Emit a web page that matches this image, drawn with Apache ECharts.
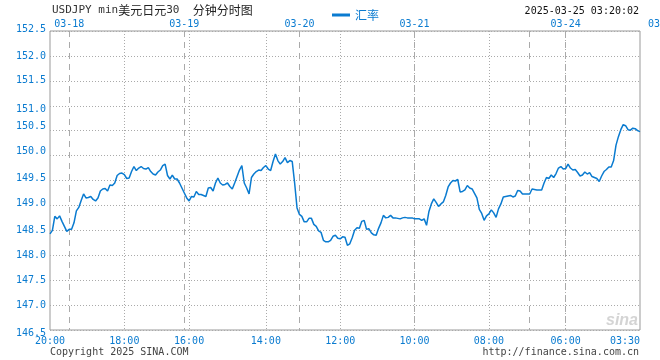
<!DOCTYPE html>
<html><head><meta charset="utf-8">
<script src="https://cdn.jsdelivr.net/npm/echarts@6/dist/echarts.min.js"></script>
<style>html,body{margin:0;padding:0;background:#fff}#c{width:660px;height:360px}</style>
</head><body><div id="c"></div>
<script>
// 30-minute USD/JPY rates, oldest (left) to newest (right)
const rates = [
148.43,148.50,148.78,148.73,148.79,148.68,148.58,148.48,148.52,148.52,
148.65,148.89,148.96,149.10,149.23,149.15,149.16,149.18,149.12,149.09,
149.15,149.29,149.33,149.34,149.29,149.41,149.40,149.45,149.60,149.64,
149.65,149.62,149.54,149.55,149.68,149.78,149.70,149.75,149.78,149.74,
149.73,149.76,149.68,149.63,149.61,149.67,149.71,149.80,149.83,149.60,
149.53,149.61,149.53,149.53,149.45,149.35,149.25,149.15,149.09,149.18,
149.17,149.28,149.22,149.22,149.20,149.18,149.35,149.36,149.29,149.45,
149.55,149.45,149.41,149.42,149.45,149.38,149.33,149.45,149.58,149.71,
149.80,149.45,149.35,149.23,149.56,149.63,149.68,149.71,149.70,149.76,
149.80,149.73,149.70,149.88,150.03,149.90,149.83,149.88,149.96,149.86,
149.90,149.88,149.45,148.95,148.82,148.78,148.67,148.67,148.74,148.74,
148.62,148.58,148.49,148.46,148.30,148.27,148.27,148.30,148.38,148.40,
148.34,148.33,148.37,148.36,148.20,148.23,148.35,148.50,148.55,148.54,
148.68,148.70,148.52,148.53,148.45,148.41,148.40,148.54,148.65,148.80,
148.75,148.76,148.80,148.75,148.75,148.74,148.73,148.75,148.76,148.75,
148.75,148.75,148.73,148.73,148.73,148.70,148.73,148.60,148.88,149.03,
149.13,149.06,148.98,149.03,149.07,149.20,149.37,149.45,149.50,149.49,
149.52,149.27,149.28,149.31,149.40,149.35,149.33,149.24,149.15,148.92,
148.84,148.70,148.79,148.83,148.91,148.85,148.76,148.93,149.03,149.17,
149.18,149.19,149.20,149.17,149.19,149.30,149.29,149.23,149.23,149.23,
149.23,149.33,149.32,149.31,149.31,149.31,149.45,149.56,149.54,149.61,
149.56,149.64,149.75,149.78,149.73,149.74,149.83,149.75,149.71,149.72,
149.66,149.59,149.61,149.67,149.63,149.66,149.58,149.56,149.54,149.48,
149.59,149.68,149.72,149.77,149.77,149.90,150.21,150.38,150.52,150.62,
150.60,150.52,150.51,150.55,150.54,150.50,150.48
];
const seriesName = '汇率';
const dayLabels = ['03-18','03-19','03-20','03-21','03-24'];
const dayLabelIdx = [8,56,104,152,215];
const daySepIdx = [8,56,104,152,200,215];
const timeLabels = ['20:00','18:00','16:00','14:00','12:00','10:00','08:00','06:00','03:30'];
const timeLabelIdx = [0,31,58,90,121,152,183,215,246];
const timeGridIdx = [31,58,90,121,152,183,215];
const yMin = 146.5, yMax = 152.5, yStep = 0.5;

const cats = rates.map((_, i) => String(i));
const MONO = 'DejaVu Sans Mono';
const CJK = 'Noto Sans CJK SC';
const BLUE = '#0a7bd0';
const GRID = '#aaaaaa';

// small vertical nudges of some y labels (style only)
const yNudge = {'152.5':'u1','151.0':'d3','150.5':'u4','150.0':'u4','149.5':'u2','149.0':'u2','146.5':'d3'};
const lab = {color: BLUE, fontFamily: MONO, fontSize: 10};
const rich = {
  n: Object.assign({}, lab),
  u1: Object.assign({padding:[0,0,3,0]}, lab),
  u2: Object.assign({padding:[0,0,5,0]}, lab),
  u4: Object.assign({padding:[0,0,8,0]}, lab),
  d3: Object.assign({padding:[7,0,0,0]}, lab)
};

const chart = echarts.init(document.getElementById('c'), null, {renderer: 'canvas'});
chart.setOption({
  animation: false,
  backgroundColor: '#fff',
  grid: {left: 50, right: 20, top: 31, bottom: 30, show: true, borderColor: '#999', borderWidth: 1, containLabel: false},
  legend: {
    data: [seriesName], left: 327, top: 4, icon: 'rect', itemWidth: 18, itemHeight: 3, itemGap: 5,
    textStyle: {color: BLUE, fontFamily: CJK, fontSize: 12}
  },
  xAxis: [
    {
      type: 'category', data: cats, boundaryGap: false, position: 'bottom',
      axisLine: {show: false}, axisTick: {show: false},
      axisLabel: {
        interval: (i) => timeLabelIdx.includes(i),
        formatter: (v, i) => timeLabels[timeLabelIdx.indexOf(i)] || '',
        color: BLUE, fontFamily: MONO, fontSize: 10, margin: 6, alignMaxLabel: 'right'
      },
      splitLine: {show: true, interval: (i) => timeGridIdx.includes(i), lineStyle: {color: GRID, type: [1, 2], width: 1}}
    },
    {
      type: 'category', data: cats, boundaryGap: false, position: 'top',
      axisLine: {show: false}, axisTick: {show: false},
      axisLabel: {
        interval: (i) => dayLabelIdx.includes(i),
        formatter: (v, i) => dayLabels[dayLabelIdx.indexOf(i)] || '',
        color: BLUE, fontFamily: MONO, fontSize: 10, margin: 2
      },
      splitLine: {show: true, interval: (i) => daySepIdx.includes(i), lineStyle: {color: GRID, type: [6, 5], width: 1}}
    }
  ],
  yAxis: {
    type: 'value', min: yMin, max: yMax, interval: yStep,
    axisLine: {show: false}, axisTick: {show: false},
    axisLabel: {
      margin: 4, color: BLUE, fontFamily: MONO, fontSize: 10,
      formatter: (v) => { const s = v.toFixed(1); return '{' + (yNudge[s] || 'n') + '|' + s + '}'; },
      rich: rich
    },
    splitLine: {show: true, lineStyle: {color: GRID, type: [1, 2], width: 1}}
  },
  series: [{
    name: seriesName, type: 'line', data: rates, xAxisIndex: 0, showSymbol: false, symbol: 'none',
    lineStyle: {color: BLUE, width: 1.5}, itemStyle: {color: BLUE}
  }],
  graphic: [
    {type: 'text', left: 52, top: 4, style: {
      text: '{a|USDJPY min}{b|美元日元}{a|30  }{b|分钟分时图}',
      rich: {a: {fontFamily: MONO, fontSize: 11, fill: '#333'}, b: {fontFamily: CJK, fontSize: 12, fill: '#222'}}
    }},
    {type: 'text', right: 21, top: 6, style: {text: '2025-03-25 03:20:02', fontFamily: MONO, fontSize: 10, fill: '#111'}},
    {type: 'text', left: 648, top: 19, style: {text: '03-25', fontFamily: MONO, fontSize: 10, fill: BLUE}},
    {type: 'text', left: 50, top: 347, style: {text: 'Copyright 2025 SINA.COM', fontFamily: MONO, fontSize: 10, fill: '#444'}},
    {type: 'text', right: 21, top: 347, style: {text: 'http://finance.sina.com.cn', fontFamily: MONO, fontSize: 10, fill: '#444'}},
    {type: 'text', right: 22, top: 313, z: 0, style: {text: 'sina', fontFamily: 'Liberation Sans', fontStyle: 'italic', fontWeight: 'bold', fontSize: 16, fill: '#d4d4d4'}}
  ]
});
</script>
</body></html>
